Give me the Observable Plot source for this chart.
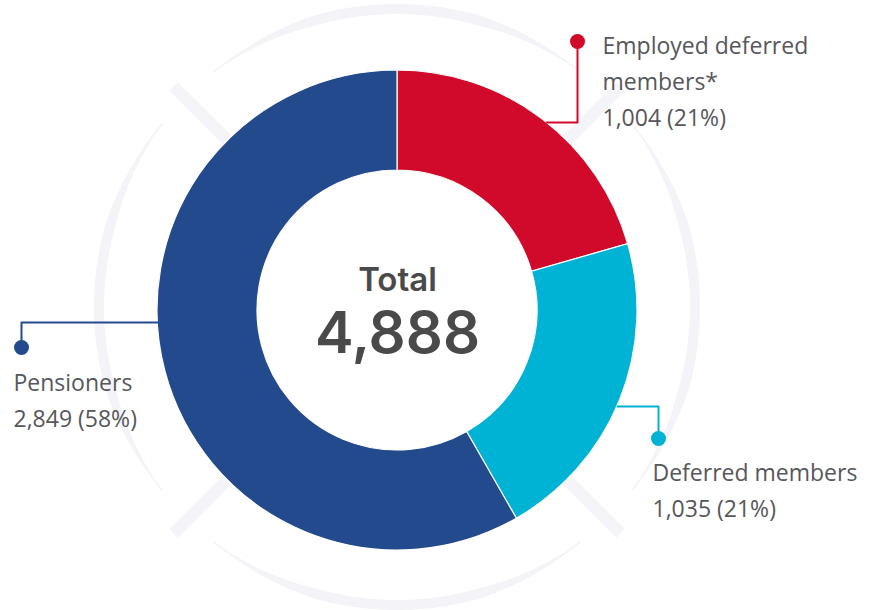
<!DOCTYPE html>
<html>
<head>
<meta charset="utf-8">
<script src="https://cdn.jsdelivr.net/npm/d3@7"></script>
<script src="https://cdn.jsdelivr.net/npm/@observablehq/plot@0.6"></script>
<style>
  html, body { margin: 0; padding: 0; background: #ffffff; }
  g[aria-label="segment labels"] text { letter-spacing: 0.6px; }
</style>
</head>
<body>
<div id="chart"></div>
<script>
// ---- data ----
const categories = ["Employed deferred members*", "Deferred members", "Pensioners"];
const values = [1004, 1035, 2849];
const percents = ["21%", "21%", "58%"];
const labelLines = [["Employed deferred", "members*"], ["Deferred members"], ["Pensioners"]];
const totalLabel = "Total";
const palette = ["#d10a2b", "#00b3d4", "#244a8e"];

// ---- layout (annotation placement, not data) ----
const W = 878, H = 610;
const cx = 397, cy = 310, R = 240, r0 = 140;
const ring = {cx: 397, cy: 307, r: 298, half: 5, gap: 7, taper: 22};
const barAngles = [45, 135, 225, 315];
// leader: y of horizontal run, side (+1 right, -1 left), elbow x, dot y, text x, text top y
const leaders = [
  {ly: 122, side: 1, ex: 577, dy: 41, tx: 602, ty: 28},
  {ly: 406, side: 1, ex: 658, dy: 438, tx: 652, ty: 455},
  {ly: 322, side: -1, ex: 21, dy: 347, tx: 13, ty: 365}
];

const total = d3.sum(values);
const fmt = d3.format(",");
const rows = categories.map((cat, i) => ({cat, value: values[i]}));

const leaderPts = [];
const dots = [];
const labels = [];
categories.forEach((cat, i) => {
  const L = leaders[i];
  const sx = cx + L.side * Math.sqrt(R * R - (L.ly - cy) ** 2);
  leaderPts.push({cat, x: sx, y: L.ly}, {cat, x: L.ex, y: L.ly}, {cat, x: L.ex, y: L.dy});
  dots.push({cat, x: L.ex, y: L.dy});
  labels.push({cat, x: L.tx, y: L.ty, text: [...labelLines[i], `${fmt(values[i])} (${percents[i]})`].join("\n")});
});

const rad = a => a * Math.PI / 180;

function decor(index, scales, vals, dims) {
  const g = d3.create("svg:g");
  const fill = "#f3f3f8";
  // tapered ring pieces
  for (let k = 0; k < 4; k++) {
    const a0 = barAngles[k] + ring.gap, a1 = barAngles[(k + 1) % 4] + (k === 3 ? 360 : 0) - ring.gap;
    const outer = [], inner = [];
    const n = 120;
    for (let j = 0; j <= n; j++) {
      const a = a0 + (a1 - a0) * j / n;
      const h = ring.half * Math.max(0.15, Math.min(1, (a - a0) / ring.taper, (a1 - a) / ring.taper));
      const s = Math.sin(rad(a)), c = -Math.cos(rad(a));
      outer.push([ring.cx + (ring.r + h) * s, ring.cy + (ring.r + h) * c]);
      inner.push([ring.cx + (ring.r - h) * s, ring.cy + (ring.r - h) * c]);
    }
    g.append("path")
      .attr("d", "M" + outer.concat(inner.reverse()).map(p => p.join(",")).join("L") + "Z")
      .attr("fill", fill);
  }
  // radial bars
  for (const a of barAngles) {
    const s = Math.sin(rad(a)), c = -Math.cos(rad(a));
    g.append("line")
      .attr("x1", cx + 220 * s).attr("y1", cy + 220 * c)
      .attr("x2", cx + 316 * s).attr("y2", cy + 316 * c)
      .attr("stroke", "#f4f4f9").attr("stroke-width", 12).attr("stroke-linecap", "butt");
  }
  return g.node();
}

function donut(index, scales) {
  const color = scales && scales.color ? scales.color : (c => palette[categories.indexOf(c)]);
  const pie = d3.pie().sort(null).value(d => d.value);
  const arc = d3.arc().innerRadius(r0).outerRadius(R);
  const g = d3.create("svg:g").attr("transform", `translate(${cx},${cy})`);
  g.selectAll("path").data(pie(rows)).join("path")
    .attr("d", arc)
    .attr("fill", d => color(d.data.cat))
    .attr("stroke", "#ffffff")
    .attr("stroke-width", 1.2);
  return g.node();
}

const chart = Plot.plot({
  width: W,
  height: H,
  margin: 0,
  x: {type: "identity", axis: null},
  y: {type: "identity", axis: null},
  color: {domain: categories, range: palette},
  style: {background: "#ffffff", fontFamily: "'Open Sans', sans-serif"},
  marks: [
    decor,
    donut,
    Plot.line(leaderPts, {x: "x", y: "y", z: "cat", stroke: "cat", strokeWidth: 2, curve: "linear"}),
    Plot.dot(dots, {x: "x", y: "y", r: 7.5, fill: "cat", stroke: null}),
    Plot.text(labels, {
      ariaLabel: "segment labels",
      x: "x", y: "y", text: "text", textAnchor: "start", lineAnchor: "top",
      fontSize: 23, lineHeight: 36 / 23, fill: "#56575a", fontWeight: 400, fontFamily: "'Open Sans', sans-serif"
    }),
    Plot.text([totalLabel], {
      x: () => cx, y: () => 267, text: d => d, textAnchor: "middle", lineAnchor: "top",
      fontSize: 33, fontWeight: 600, fill: "#4a4a4a", fontFamily: "Inter, sans-serif"
    }),
    Plot.text([total], {
      x: () => cx, y: () => 311, text: d => fmt(d), textAnchor: "middle", lineAnchor: "top",
      fontSize: 58, fontWeight: 600, fill: "#4a4a4a", fontFamily: "Inter, sans-serif"
    })
  ]
});

document.getElementById("chart").appendChild(chart);
</script>
</body>
</html>
